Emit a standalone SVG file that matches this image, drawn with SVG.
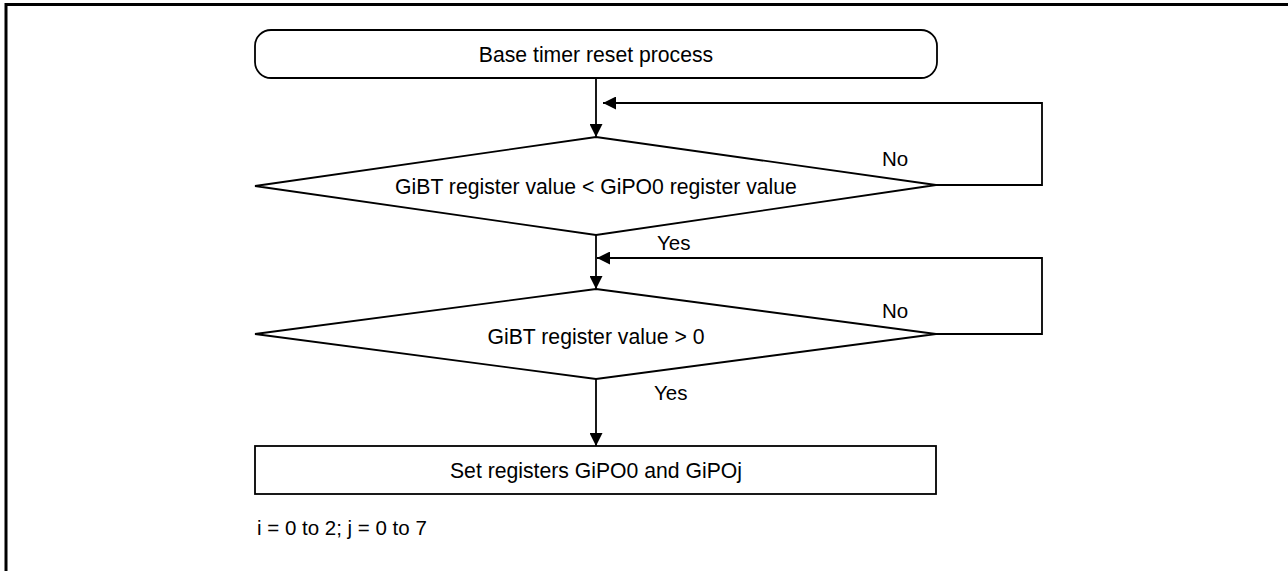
<svg xmlns="http://www.w3.org/2000/svg" width="1288" height="571" viewBox="0 0 1288 571">
<style>
.shape{fill:#fff;stroke:#000;stroke-width:1.8}
.line{fill:none;stroke:#000;stroke-width:1.8}
.frame{fill:none;stroke:#000;stroke-width:3}
text{font-family:"Liberation Sans",Arial,sans-serif;font-size:20.5px;fill:#000}
.c{text-anchor:middle;font-size:21.2px}
</style>
<defs>
<marker id="arr" markerWidth="13" markerHeight="13" refX="13" refY="6.5" orient="auto" markerUnits="userSpaceOnUse">
<path d="M0,0 L13,6.5 L0,13 Z" fill="#000"/>
</marker>
</defs>
<rect width="1288" height="571" fill="#fff"/>
<path class="frame" d="M6,571 L6,4.5 L1288,4.5"/>
<g id="connectors">
<line class="line" x1="596" y1="78" x2="596" y2="137" marker-end="url(#arr)"/>
<path class="line" d="M936,185 L1042,185 L1042,103 L603,103" marker-end="url(#arr)"/>
<line class="line" x1="596" y1="235" x2="596" y2="289" marker-end="url(#arr)"/>
<path class="line" d="M936,334 L1042,334 L1042,258 L597,258" marker-end="url(#arr)"/>
<line class="line" x1="596" y1="379" x2="596" y2="446" marker-end="url(#arr)"/>
<text x="882" y="166">No</text>
<text x="657" y="250">Yes</text>
<text x="882" y="318">No</text>
<text x="654" y="400">Yes</text>
</g>
<g id="start">
<rect class="shape" x="255" y="30" width="682" height="48" rx="16" ry="16"/>
<text class="c" x="596" y="62">Base timer reset process</text>
</g>
<g id="decision1">
<polygon class="shape" points="596,137 936,185 596,235 255,186"/>
<text class="c" x="596" y="194">GiBT register value &lt; GiPO0 register value</text>
</g>
<g id="decision2">
<polygon class="shape" points="596,289 936,334 596,379 255,334"/>
<text class="c" x="596" y="344">GiBT register value &gt; 0</text>
</g>
<g id="process">
<rect class="shape" x="255" y="446" width="681" height="48"/>
<text class="c" x="596" y="478">Set registers GiPO0 and GiPOj</text>
</g>
<text x="257" y="535">i = 0 to 2; j = 0 to 7</text>
</svg>
